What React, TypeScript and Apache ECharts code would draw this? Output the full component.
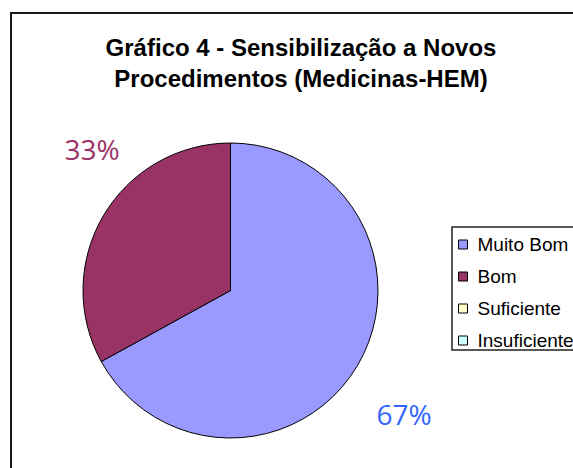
import { useEffect, useRef } from "react";
import * as echarts from "echarts";

const titleLines = ["Gráfico 4 - Sensibilização a Novos", "Procedimentos (Medicinas-HEM)"];
const categories = ["Muito Bom", "Bom", "Suficiente", "Insuficiente"];
const values = [67, 33, 0, 0];
const sliceColors = ["#9999FF", "#993366", "#FFFFCC", "#CCFFFF"];
const labelColors = ["#3366FF", "#993366", "#000000", "#000000"];

export default function App() {
  const ref = useRef<HTMLDivElement>(null);
  useEffect(() => {
    const chart = echarts.init(ref.current!, null, { renderer: "svg" });
    const labelPos: Record<number, [number, number]> = { 0: [404, 414], 1: [92, 149] };
    chart.setOption({
      animation: false,
      backgroundColor: "#ffffff",
      graphic: [
        {
          type: "rect",
          z: -10,
          shape: { x: 11, y: 13, width: 700, height: 600 },
          style: { fill: "#ffffff", stroke: "#1a1a1a", lineWidth: 2 },
        },
        ...titleLines.map((t, i) => ({
          type: "text",
          x: 301,
          y: 47 + i * 31,
          style: {
            text: t,
            fontSize: 24,
            fontWeight: "bold",
            fontFamily: "'Liberation Sans', Arial, sans-serif",
            fill: "#000000",
            align: "center",
            verticalAlign: "middle",
            textAlign: "center",
            textVerticalAlign: "middle",
          },
        })),
      ],
      legend: {
        orient: "vertical",
        left: 452,
        top: 227,
        data: categories,
        itemWidth: 9,
        itemHeight: 9,
        itemGap: 13,
        padding: [8, 20, 0, 6],
        borderColor: "#222222",
        borderWidth: 1.5,
        icon: "rect",
        itemStyle: { borderColor: "#000000", borderWidth: 1 },
        textStyle: {
          fontSize: 19,
          lineHeight: 18,
          fontFamily: "'Liberation Sans', Arial, sans-serif",
          color: "#000000",
          padding: [0, 0, 0, 5],
        },
      },
      series: [
        {
          type: "pie",
          center: [230.5, 290.5],
          radius: 147.5,
          startAngle: 90,
          clockwise: true,
          percentPrecision: 0,
          avoidLabelOverlap: false,
          itemStyle: { borderColor: "#000000", borderWidth: 1 },
          label: {
            show: true,
            position: "outside",
            formatter: "{d}%",
            fontSize: 28,
            fontFamily: "'Open Sans', sans-serif",
          },
          labelLine: { show: false },
          labelLayout: (params: any) => {
            const p = labelPos[params.dataIndex];
            if (!p) return {};
            return { x: p[0], y: p[1], align: "center", verticalAlign: "middle" };
          },
          emphasis: { disabled: true },
          data: categories.map((c, i) => ({
            name: c,
            value: values[i],
            itemStyle: { color: sliceColors[i] },
            label: { show: values[i] > 0, color: labelColors[i] },
          })),
        },
      ],
    });
    return () => chart.dispose();
  }, []);
  return (
    <div
      ref={ref}
      style={{ position: "fixed", left: 0, top: 0, width: 573, height: 468 }}
    />
  );
}
